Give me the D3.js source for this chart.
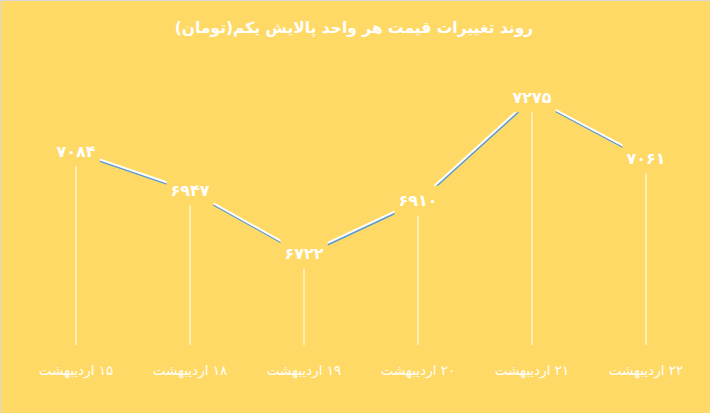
<!DOCTYPE html>
<html>
<head>
<meta charset="utf-8">
<script src="https://cdn.jsdelivr.net/npm/d3@7/dist/d3.min.js"></script>
<style>
  html, body { margin: 0; padding: 0; background: #FFD966; }
  svg { display: block; }
</style>
</head>
<body>
<svg id="chart" width="710" height="413"></svg>
<script>
const title = "روند تغییرات قیمت هر واحد پالایش یکم(تومان)";
const categories = ["۱۵ اردیبهشت", "۱۸ اردیبهشت", "۱۹ اردیبهشت", "۲۰ اردیبهشت", "۲۱ اردیبهشت", "۲۲ اردیبهشت"];
const values = [7084, 6947, 6722, 6910, 7275, 7061];
const yDomain = [6400, 7400];

const toFa = n => String(n).replace(/[0-9]/g, d => "۰۱۲۳۴۵۶۷۸۹"[+d]);

const W = 710, H = 413;
const bg = "#FFD966";
const svg = d3.select("#chart");

svg.append("rect").attr("width", W).attr("height", H).attr("fill", bg);
// sheet border hints
svg.append("line").attr("x1", 0).attr("x2", W).attr("y1", 0.5).attr("y2", 0.5)
  .attr("stroke", "#d9d9d9").attr("stroke-width", 1);
svg.append("line").attr("x1", 0.5).attr("x2", 0.5).attr("y1", 0).attr("y2", H)
  .attr("stroke", "#d9d9d9").attr("stroke-width", 1);

const x = d3.scalePoint().domain(categories).range([76, 646]);
const y = d3.scaleLinear().domain(yDomain).range([345, 62]);

svg.append("text")
  .attr("x", 354).attr("y", 33)
  .attr("text-anchor", "middle")
  .attr("direction", "rtl")
  .attr("font-family", "DejaVu Sans")
  .attr("font-weight", "bold")
  .attr("font-size", 15.5)
  .attr("fill", "#ffffff")
  .text(title);

const data = categories.map((c, i) => ({ c, v: values[i] }));

// drop lines
svg.append("g").selectAll("line").data(data).join("line")
  .attr("x1", d => x(d.c)).attr("x2", d => x(d.c))
  .attr("y1", d => y(d.v)).attr("y2", y(yDomain[0]))
  .attr("stroke", "#ffffff").attr("stroke-width", 1);

const line = d3.line().x(d => x(d.c)).y(d => y(d.v));
svg.append("path").datum(data)
  .attr("d", line)
  .attr("transform", "translate(0.6,1.6)")
  .attr("fill", "none").attr("stroke", "#5B9BD5").attr("stroke-width", 2);
svg.append("path").datum(data)
  .attr("d", line)
  .attr("fill", "none").attr("stroke", "#ffffff").attr("stroke-width", 2);

// data labels with background boxes
const lg = svg.append("g").selectAll("g").data(data).join("g")
  .attr("transform", d => `translate(${x(d.c)},${y(d.v)})`);
const lt = lg.append("text")
  .attr("text-anchor", "middle")
  .attr("dy", "0.35em")
  .attr("font-family", "DejaVu Sans")
  .attr("font-weight", "bold")
  .attr("font-size", 16)
  .attr("fill", "#ffffff")
  .text(d => toFa(d.v));
lt.each(function() {
  const b = this.getBBox();
  d3.select(this.parentNode).insert("rect", "text")
    .attr("x", b.x - 4).attr("y", -15)
    .attr("width", b.width + 8).attr("height", 30)
    .attr("fill", bg);
});

// category labels
svg.append("g").selectAll("text").data(categories).join("text")
  .attr("x", d => x(d)).attr("y", 375)
  .attr("text-anchor", "middle")
  .attr("direction", "rtl")
  .attr("font-family", "DejaVu Sans")
  .attr("font-size", 13.5)
  .attr("fill", "#ffffff")
  .text(d => d);
</script>
</body>
</html>
